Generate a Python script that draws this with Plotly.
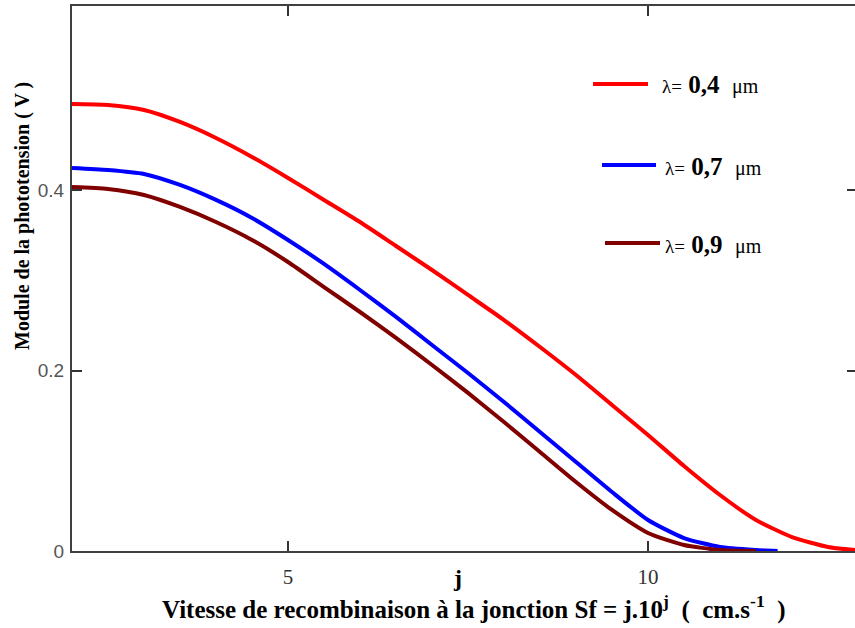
import plotly.graph_objects as go

# ---- data ----
j_red = [2, 2.5, 3, 3.5, 4, 4.5, 5, 5.5, 6, 6.5, 7, 7.5, 8, 8.5, 9, 9.5, 10, 10.5, 11, 11.5, 12, 12.5, 12.88]
v_red = [0.4958, 0.4947, 0.4892, 0.4759, 0.4581, 0.4371, 0.4138, 0.3894, 0.3649, 0.3383, 0.3117, 0.2840,
         0.2562, 0.2263, 0.1952, 0.1620, 0.1287, 0.0943, 0.0621, 0.0344, 0.0155, 0.0044, 0.0010]

j_blue = [2, 2.5, 3, 3.5, 4, 4.5, 5, 5.5, 6, 6.5, 7, 7.5, 8, 8.5, 9, 9.5, 10, 10.5, 11, 11.5, 11.8]
v_blue = [0.4248, 0.4226, 0.4182, 0.4060, 0.3894, 0.3694, 0.3450, 0.3184, 0.2895, 0.2596, 0.2285, 0.1974,
          0.1653, 0.1320, 0.0987, 0.0654, 0.0344, 0.0144, 0.0044, 0.0011, 0.0]

j_brown = [2, 2.5, 3, 3.5, 4, 4.5, 5, 5.5, 6, 6.5, 7, 7.5, 8, 8.5, 9, 9.5, 10, 10.5, 11, 11.5]
v_brown = [0.4038, 0.4016, 0.3949, 0.3816, 0.3649, 0.3450, 0.3206, 0.2928, 0.2651, 0.2363, 0.2063, 0.1753,
           0.1431, 0.1098, 0.0765, 0.0455, 0.0200, 0.0067, 0.0011, 0.0]

series_names = ["λ= 0,4 μm", "λ= 0,7 μm", "λ= 0,9 μm"]
series_values = ["0,4", "0,7", "0,9"]
colors = ["#FF0000", "#0000FF", "#800000"]

x_ticks = [5, 10]
x_tick_labels = ["5", "10"]
y_ticks = [0, 0.2, 0.4]
y_tick_labels = ["0", "0.2", "0.4"]

x_range = [2, 12.875]
y_range = [0, 0.6045]

fig = go.Figure()
for xs, ys, name, col in zip([j_red, j_blue, j_brown], [v_red, v_blue, v_brown], series_names, colors):
    fig.add_trace(go.Scatter(x=xs, y=ys, mode="lines", name=name,
                             line=dict(color=col, width=4, shape="spline", smoothing=0.6),
                             showlegend=False))

# helper trace carrying the right-side tick axis
fig.add_trace(go.Scatter(x=[x_range[0]], y=[y_range[0]], yaxis="y2", mode="markers",
                         marker=dict(size=1, opacity=0), showlegend=False, hoverinfo="skip"))

serif = "Liberation Serif"
axis_col = "#404040"

fig.update_layout(
    width=855, height=628,
    margin=dict(l=72, r=0, t=6, b=77),
    paper_bgcolor="white", plot_bgcolor="white",
    showlegend=False,
    xaxis=dict(range=x_range, tickvals=x_ticks, ticktext=x_tick_labels,
               showgrid=False, zeroline=False, showline=True, linecolor=axis_col, linewidth=2,
               mirror="ticks", ticks="inside", ticklen=10, tickwidth=1.5, tickcolor="#333",
               tickfont=dict(family=serif, size=21, color="#333"), ticklabelstandoff=6),
    yaxis=dict(range=y_range, tickvals=y_ticks, ticktext=y_tick_labels,
               showgrid=False, zeroline=False, showline=True, linecolor=axis_col, linewidth=2,
               mirror=False, ticks="inside", ticklen=10, tickwidth=1.5, tickcolor="#333",
               tickfont=dict(family="Liberation Sans", size=19, color="#555"), ticklabelstandoff=2),
    yaxis2=dict(range=y_range, tickvals=y_ticks, overlaying="y", side="right",
                showgrid=False, zeroline=False, showline=False, showticklabels=False,
                ticks="inside", ticklen=8, tickwidth=1.5, tickcolor="#333"),
)

def px2paper(px, py):
    return (px - 72) / 783.0, (551 - py) / 545.0

ann = []
tx, ty = px2paper(474, 607)
ann.append(dict(x=tx, y=ty, xref="paper", yref="paper", showarrow=False,
                text="<b>Vitesse de recombinaison à la jonction Sf = j.10<sup>j</sup>  (  cm.s<sup>-1</sup>  )</b>",
                font=dict(family=serif, size=25, color="black"), xanchor="center", yanchor="middle"))
jx, jy = px2paper(457, 578)
ann.append(dict(x=jx, y=jy, xref="paper", yref="paper", showarrow=False, text="<b>j</b>",
                font=dict(family=serif, size=24, color="black"), xanchor="center", yanchor="middle"))
yx, yy = px2paper(22, 216)
ann.append(dict(x=yx, y=yy, xref="paper", yref="paper", showarrow=False, textangle=-90,
                text="<b>Module de la phototension ( V )</b>",
                font=dict(family=serif, size=20, color="black"), xanchor="center", yanchor="middle"))

# legend samples
leg_lines = [(593, 648, 84), (602, 656, 165), (605, 660, 243)]
leg_text_x = [660, 663, 663]
shapes = []
for (x0, x1, yl), tx0, val, col in zip(leg_lines, leg_text_x, series_values, colors):
    a0, b0 = px2paper(x0, yl)
    a1, _ = px2paper(x1, yl)
    shapes.append(dict(type="line", xref="paper", yref="paper", x0=a0, x1=a1, y0=b0, y1=b0,
                       line=dict(color=col, width=4)))
    ax, ay = px2paper(tx0, yl + 1)
    ann.append(dict(x=ax, y=ay, xref="paper", yref="paper", showarrow=False, xanchor="left", yanchor="middle",
                    text=("<span style='font-size:19px'>λ=</span> <b>" + val +
                          "</b>  <span style='font-size:20px'>μm</span>"),
                    font=dict(family=serif, size=25, color="black")))

fig.update_layout(annotations=ann, shapes=shapes)
fig.write_html("out.html")
